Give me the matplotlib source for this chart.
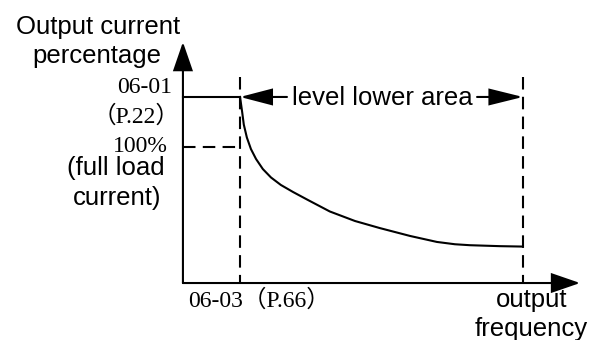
"""Output current derating vs output frequency (level lower area)."""
import matplotlib
matplotlib.use("Agg")
import matplotlib.pyplot as plt
from matplotlib.patches import FancyArrowPatch, ArrowStyle

# data (x: output frequency, arbitrary units; y: output current %)
F_0603 = 16.8          # 06-03 (P.66)
F_END = 100.0          # end of level lower area
LEVEL_0601 = 136.8     # 06-01 (P.22)
LEVEL_FULL = 100.0     # 100% full load current
DASH_TOP = 151.5
AXIS_X_END = 116.8
AXIS_Y_END = 177.2

curve_f = [16.8, 17.4, 17.9, 18.8, 20.0, 21.5, 23.5, 25.9, 28.8, 32.4, 36.8,
           43.2, 50.6, 57.9, 66.8, 74.7, 80.0, 84.4, 93.2, 100.0]
curve_pct = [136.8, 126.1, 116.5, 107.0, 98.5, 91.2, 83.8, 77.6, 72.1, 66.9, 61.0,
             52.6, 45.6, 40.4, 34.6, 30.2, 28.5, 27.8, 27.1, 26.8]

SANS = ["Liberation Sans", "DejaVu Sans"]
SERIF = ["Liberation Serif", "Noto Sans CJK SC", "DejaVu Sans"]
LW = 1.5
DASH = (0, (6, 3.5))

fig = plt.figure(figsize=(5.93, 3.40), dpi=100)
ax = fig.add_axes([0, 0, 1, 1])
ax.set_xlim(-53.8, 120.6)
ax.set_ylim(-41.9, 208.1)
ax.axis("off")


def arrow(p0, p1, hl, hw):
    style = ArrowStyle("-|>", head_length=hl, head_width=hw)
    ax.add_patch(FancyArrowPatch(p0, p1, arrowstyle=style, mutation_scale=1,
                                 shrinkA=0, shrinkB=0, color="black", lw=LW,
                                 joinstyle="miter"))


# axes with arrows
arrow((0, 0), (0, AXIS_Y_END), 18, 6.2)
arrow((0, 0), (AXIS_X_END, 0), 18, 6.2)

# 06-01 level and 100% dashed level
ax.plot([0, F_0603], [LEVEL_0601, LEVEL_0601], color="black", lw=LW)
ax.plot([0, F_0603], [LEVEL_FULL, LEVEL_FULL], color="black", lw=LW, linestyle=DASH)

# vertical dashed boundaries
ax.plot([F_0603, F_0603], [DASH_TOP, 0], color="black", lw=LW, linestyle=DASH)
ax.plot([F_END, F_END], [DASH_TOP, 0], color="black", lw=LW, linestyle=DASH)

# derating curve
ax.plot(curve_f, curve_pct, color="black", lw=LW, solid_joinstyle="round")

# level lower area double arrow
arrow((30.6, LEVEL_0601), (F_0603, LEVEL_0601), 20, 5.2)
arrow((86.5, LEVEL_0601), (F_END, LEVEL_0601), 21, 5.2)
ax.text(58.5, 130.9, "level lower area", family=SANS, fontsize=18.5,
        ha="center", va="baseline")

# axis titles
ax.text(-25.0, 183.1, "Output current", family=SANS, fontsize=18.5, ha="center", va="baseline")
ax.text(-25.3, 161.8, "percentage", family=SANS, fontsize=18.5, ha="center", va="baseline")
ax.text(102.6, -17.6, "output", family=SANS, fontsize=18.5, ha="center", va="baseline")
ax.text(102.4, -39.0, "frequency", family=SANS, fontsize=18.5, ha="center", va="baseline")

# y labels
ax.text(-3.2, 139.7, "06-01", family=SERIF, fontsize=17, ha="right", va="baseline")
ax.text(-0.9, 117.6, "（P.22）", family=SERIF, fontsize=17, ha="right", va="baseline")
ax.text(-4.4, 96.7, "100%", family=SERIF, fontsize=17, ha="right", va="baseline")
ax.text(-5.3, 79.6, "(full load", family=SANS, fontsize=18.5, ha="right", va="baseline")
ax.text(-6.2, 57.4, "current)", family=SANS, fontsize=18.5, ha="right", va="baseline")

# x label
ax.text(1.5, -17.6, "06-03（P.66）", family=SERIF, fontsize=17, ha="left", va="baseline")

fig.savefig("out.png", dpi=100)
